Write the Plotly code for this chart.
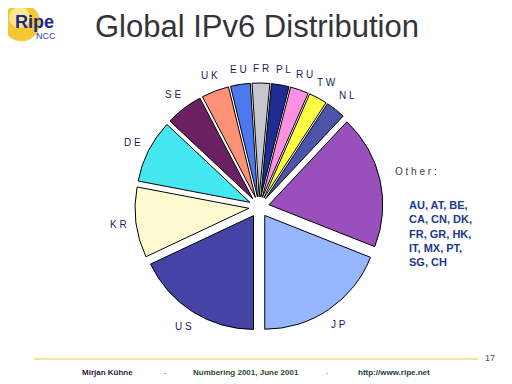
import math
import plotly.graph_objects as go

# Data (share of IPv6 allocations, in %)
countries = ["US", "KR", "DE", "SE", "UK", "EU", "FR", "PL", "RU", "TW", "NL", "Other:", "JP"]
shares = [18, 10, 9, 5.3, 3.9, 2.8, 2.5, 2.5, 2.6, 2.6, 2.8, 19, 19]
colors = ["#4444a6", "#fdfbd2", "#44e8f0", "#6b2062", "#ff9276", "#4c7aee",
          "#c6c6ce", "#1e2c94", "#ff90e2", "#ffff44", "#4e54aa", "#9a50bc", "#96b6ff"]
other_list = ["AU, AT, BE,", "CA, CN, DK,", "FR, GR, HK,", "IT, MX, PT,", "SG, CH"]

W, H = 512, 384
OFF = 8  # the page body margin shifts the figure by 8 px


def px(x, y):
    """page pixel -> paper coordinates"""
    return (x - OFF) / W, 1 - (y - OFF) / H


# pie geometry (page pixels)
CX, CY, BOX = 259, 207, 248
PULL = 0.09
x0, y0 = px(CX - BOX / 2, CY + BOX / 2)
x1, y1 = px(CX + BOX / 2, CY - BOX / 2)

fig = go.Figure()
fig.add_trace(go.Pie(
    labels=countries,
    values=shares,
    textinfo="none",
    marker=dict(colors=colors, line=dict(color="#000000", width=1)),
    sort=False,
    direction="clockwise",
    rotation=180,
    pull=PULL,
    showlegend=False,
    hoverinfo="label+value",
    domain=dict(x=[x0, x1], y=[y0, y1]),
))

annotations = []

# slice labels placed around the pie from the data angles
total = sum(shares)
cum = 0.0
for name, v in zip(countries, shares):
    mid = 180 + (cum + v / 2) / total * 360  # clockwise from 12 o'clock
    cum += v
    t = math.radians(mid)
    txt = " ".join(name) if name != "Other:" else "O t h e r :"
    w = len(txt) * 4.8
    r = 134 + 0.5 * w * abs(math.sin(t)) + 4.5 * abs(math.cos(t))
    lx, ly = px(CX + r * math.sin(t), CY - r * math.cos(t))
    annotations.append(dict(
        x=lx, y=ly, text=txt, showarrow=False, xref="paper", yref="paper",
        xanchor="center", yanchor="middle",
        font=dict(family="Liberation Sans, Arial", size=10,
                  color="#404050" if name == "Other:" else "#1c1c5c")))

tx, ty = px(257, 26)
annotations.append(dict(x=tx, y=ty, text="Global IPv6 Distribution", showarrow=False,
                        font=dict(family="Liberation Sans, Arial", size=31, color="#34343a"),
                        xref="paper", yref="paper", xanchor="center", yanchor="middle"))

lx, ly = px(13, 22)
annotations.append(dict(x=lx, y=ly, text="<b>Ripe</b>", showarrow=False,
                        font=dict(family="Liberation Sans, Arial", size=18, color="#1a2a8c"),
                        xref="paper", yref="paper", xanchor="left", yanchor="middle"))
lx, ly = px(34, 36)
annotations.append(dict(x=lx, y=ly, text="NCC", showarrow=False,
                        font=dict(family="Liberation Sans, Arial", size=9, color="#2a3aa0"),
                        xref="paper", yref="paper", xanchor="left", yanchor="middle"))

ox, oy = px(407, 233)
annotations.append(dict(x=ox, y=oy, text="<b>" + "<br>".join(other_list) + "</b>",
                        showarrow=False, align="left",
                        font=dict(family="Liberation Sans, Arial", size=11, color="#1a3a8a"),
                        xref="paper", yref="paper", xanchor="left", yanchor="middle"))

footer = [
    (490, 358, "17", 9, "#505060"),
    (107, 372, "<b>Mirjan Kühne</b>", 8, "#302040"),
    (165, 371, "<b>.</b>", 8, "#c03020"),
    (246, 372, "<b>Numbering 2001, June 2001</b>", 8, "#2a4a2a"),
    (327, 371, "<b>.</b>", 8, "#60b040"),
    (394, 372, "<b>http://www.ripe.net</b>", 8, "#203a44"),
]
for fx, fy, txt, sz, col in footer:
    ax, ay = px(fx, fy)
    annotations.append(dict(x=ax, y=ay, text=txt, showarrow=False,
                            font=dict(family="Liberation Sans, Arial", size=sz, color=col),
                            xref="paper", yref="paper", xanchor="center", yanchor="middle"))

c0x, c0y = px(3, 41)
c1x, c1y = px(40, 4)
h0x, h0y = px(9, 28)
h1x, h1y = px(30, 7)
l0x, l0y = px(34, 359)
l1x, _ = px(478, 359)
shapes = [
    dict(type="circle", xref="paper", yref="paper", x0=c0x, x1=c1x, y0=c0y, y1=c1y,
         fillcolor="#f4c830", line=dict(color="#f0d060", width=1), layer="below"),
    dict(type="circle", xref="paper", yref="paper", x0=h0x, x1=h1x, y0=h0y, y1=h1y,
         fillcolor="#fbe890", line=dict(width=0), layer="below"),
    dict(type="line", xref="paper", yref="paper", x0=l0x, x1=l1x, y0=l0y, y1=l0y,
         line=dict(color="#e8d040", width=1)),
]

fig.update_layout(
    width=W, height=H,
    margin=dict(l=0, r=0, t=0, b=0),
    paper_bgcolor="#ffffff",
    plot_bgcolor="#ffffff",
    annotations=annotations,
    shapes=shapes,
)

fig.write_html("out.html")
